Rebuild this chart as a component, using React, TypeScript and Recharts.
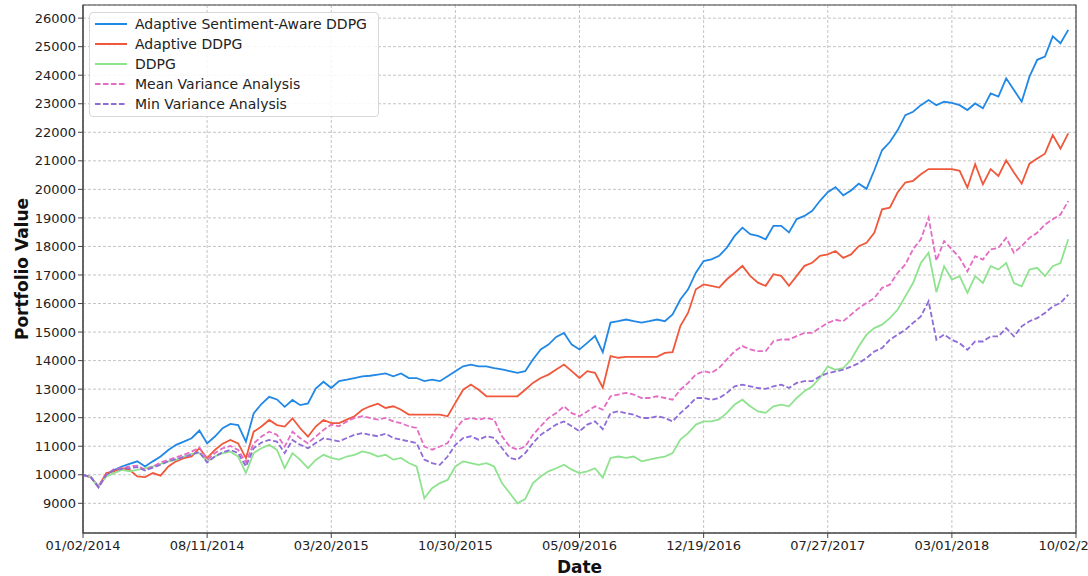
import React from "react";
import { LineChart, Line, XAxis, YAxis, CartesianGrid, ReferenceArea } from "recharts";

// tick labels (one every 16 samples)
const dateTicks = [
  "01/02/2014", "08/11/2014", "03/20/2015", "10/30/2015", "05/09/2016",
  "12/19/2016", "07/27/2017", "03/01/2018", "10/02/2018",
];
const samplesPerTick = 16;

const sentimentDdpg = [
  10000, 9920, 9590, 10000, 10170, 10290, 10380, 10470, 10290, 10470, 10640, 10870, 11050, 11160, 11280, 11550,
  11100, 11340, 11630, 11780, 11740, 11160, 12150, 12480, 12730, 12640, 12380, 12620, 12440, 12500, 13020, 13260,
  13040, 13280, 13330, 13390, 13450, 13470, 13510, 13550, 13450, 13550, 13390, 13390, 13280, 13330, 13280, 13450,
  13630, 13800, 13860, 13800, 13800, 13740, 13690, 13630, 13570, 13630, 14040, 14390, 14560, 14830, 14970, 14560,
  14390, 14620, 14860, 14300, 15330, 15380, 15440, 15380, 15330, 15380, 15440, 15380, 15620, 16140, 16500, 17080,
  17490, 17550, 17670, 17960, 18370, 18660, 18430, 18370, 18250, 18720, 18720, 18490, 18960, 19070, 19250, 19600,
  19900, 20080, 19790, 19960, 20200, 20020, 20670, 21370, 21660, 22070, 22600, 22720, 22950, 23130, 22950, 23070,
  23030, 22950, 22780, 23010, 22840, 23360, 23250, 23890, 23480, 23070, 23950, 24540, 24650, 25360, 25120, 25590,
];

const adaptiveDdpg = [
  10000, 9920, 9590, 10060, 10120, 10230, 10170, 9940, 9920, 10060, 9970, 10290, 10470, 10580, 10640, 10930,
  10580, 10870, 11090, 11220, 11100, 10580, 11510, 11690, 11920, 11740, 11690, 11980, 11630, 11340, 11690, 11920,
  11810, 11810, 11930, 12050, 12280, 12400, 12490, 12340, 12400, 12280, 12110, 12110, 12110, 12110, 12110, 12050,
  12520, 12980, 13160, 12980, 12750, 12750, 12750, 12750, 12750, 12980, 13220, 13390, 13510, 13690, 13860, 13630,
  13390, 13630, 13570, 13050, 14160, 14100, 14130, 14130, 14130, 14130, 14130, 14270, 14300, 15210, 15680, 16500,
  16670, 16620, 16560, 16850, 17080, 17320, 16970, 16730, 16620, 17030, 16970, 16620, 16970, 17320, 17430, 17670,
  17720, 17840, 17600, 17720, 18010, 18130, 18480, 19300, 19360, 19890, 20240, 20300, 20530, 20710, 20710, 20710,
  20710, 20650, 20060, 20880, 20180, 20710, 20470, 21020, 20590, 20200, 20900, 21080, 21250, 21900, 21430, 21960,
];

const ddpg = [
  10000, 9920, 9590, 9940, 10060, 10170, 10120, 10170, 10230, 10290, 10380, 10470, 10520, 10640, 10730, 10760,
  10470, 10640, 10760, 10810, 10640, 10060, 10760, 10930, 11050, 10870, 10230, 10760, 10520, 10230, 10520, 10700,
  10590, 10530, 10640, 10700, 10820, 10760, 10640, 10700, 10530, 10590, 10410, 10290, 9180, 9530, 9710, 9820,
  10290, 10470, 10410, 10350, 10410, 10290, 9710, 9360, 9000, 9150, 9710, 9940, 10120, 10230, 10350, 10180,
  10060, 10120, 10230, 9900, 10590, 10640, 10590, 10640, 10470, 10530, 10590, 10640, 10760, 11230, 11460, 11760,
  11870, 11870, 11940, 12170, 12460, 12630, 12400, 12220, 12170, 12400, 12460, 12400, 12690, 12930, 13100, 13400,
  13800, 13680, 13740, 14030, 14500, 14910, 15140, 15260, 15490, 15780, 16250, 16720, 17420, 17780, 16400, 17310,
  16840, 16960, 16370, 16960, 16720, 17310, 17190, 17420, 16720, 16600, 17190, 17250, 16960, 17310, 17420, 18250,
];

const meanVariance = [
  10000, 9920, 9560, 10000, 10200, 10230, 10290, 10320, 10170, 10290, 10430, 10520, 10610, 10700, 10810, 10960,
  10520, 10760, 10930, 11010, 10870, 10430, 11100, 11340, 11510, 11400, 10990, 11510, 11280, 11100, 11340, 11570,
  11760, 11700, 11870, 11990, 12050, 11990, 11930, 11990, 11870, 11810, 11700, 11640, 10990, 10880, 10990, 11110,
  11580, 11930, 11990, 11930, 11990, 11930, 11350, 10990, 10880, 10990, 11400, 11700, 11990, 12160, 12400, 12160,
  12050, 12220, 12400, 12280, 12750, 12810, 12870, 12810, 12690, 12690, 12750, 12690, 12630, 12980, 13220, 13510,
  13630, 13570, 13750, 14040, 14330, 14510, 14390, 14330, 14330, 14680, 14740, 14740, 14860, 14970, 14970, 15150,
  15320, 15430, 15380, 15610, 15840, 16020, 16190, 16550, 16660, 17070, 17370, 17900, 18250, 19010, 17500, 18190,
  17900, 17600, 17130, 17660, 17540, 17900, 17950, 18300, 17780, 18010, 18300, 18480, 18770, 18950, 19120, 19590,
];

const minVariance = [
  10000, 9920, 9560, 10000, 10170, 10200, 10230, 10270, 10150, 10250, 10350, 10470, 10550, 10620, 10700, 10810,
  10430, 10640, 10790, 10870, 10760, 10290, 10930, 11130, 11220, 11160, 10760, 11220, 11050, 10930, 11110, 11280,
  11230, 11170, 11290, 11400, 11460, 11400, 11350, 11440, 11290, 11230, 11170, 11110, 10530, 10410, 10350, 10640,
  11050, 11290, 11350, 11230, 11350, 11290, 10940, 10590, 10530, 10760, 11110, 11400, 11580, 11760, 11870, 11700,
  11520, 11760, 11870, 11600, 12160, 12220, 12160, 12110, 11990, 11990, 12050, 11990, 11870, 12160, 12400, 12690,
  12690, 12630, 12690, 12870, 13100, 13160, 13100, 13040, 13010, 13100, 13160, 13040, 13220, 13280, 13280, 13450,
  13560, 13620, 13680, 13790, 13910, 14090, 14320, 14440, 14730, 14910, 15080, 15320, 15550, 16080, 14730, 14910,
  14730, 14610, 14380, 14670, 14670, 14850, 14850, 15140, 14850, 15200, 15380, 15490, 15670, 15900, 16020, 16310,
];

const yTicks = [9000, 10000, 11000, 12000, 13000, 14000, 15000, 16000, 17000, 18000, 19000, 20000, 21000, 22000, 23000, 24000, 25000, 26000];

const series = [
  { key: "sentiment", name: "Adaptive Sentiment-Aware DDPG", color: "#2188e6", dash: undefined, values: sentimentDdpg },
  { key: "adaptive", name: "Adaptive DDPG", color: "#f0583c", dash: undefined, values: adaptiveDdpg },
  { key: "ddpg", name: "DDPG", color: "#8fe38f", dash: undefined, values: ddpg },
  { key: "meanVar", name: "Mean Variance Analysis", color: "#e46cc4", dash: "5.5 2.5", values: meanVariance },
  { key: "minVar", name: "Min Variance Analysis", color: "#8f6bd8", dash: "5.5 2.5", values: minVariance },
];

const data = sentimentDdpg.map((_, i) => {
  const row: Record<string, number> = { i };
  series.forEach((s) => (row[s.key] = s.values[i]));
  return row;
});

const xTicks = dateTicks.map((_, k) => k * samplesPerTick);
const font = "'DejaVu Sans', sans-serif";

// legend drawn as an overlay so it does not take space from the plot
function LegendBox() {
  return (
    <div
      style={{
        position: "absolute",
        left: 89,
        top: 12,
        width: 290,
        height: 105,
        paddingTop: 1,
        border: "1px solid #d8d8d8",
        borderRadius: 4,
        background: "rgba(255,255,255,0.85)",
        fontFamily: font,
        fontSize: 14,
        color: "#222",
        boxSizing: "border-box",
      }}
    >
      {series.map((s) => (
        <div key={s.key} style={{ display: "flex", alignItems: "center", height: 20 }}>
          <svg width={42} height={10} style={{ marginLeft: 3, flex: "none" }}>
            <line x1={2} y1={5} x2={34} y2={5} stroke={s.color} strokeWidth={2} strokeDasharray={s.dash} />
          </svg>
          <span style={{ whiteSpace: "nowrap" }}>{s.name}</span>
        </div>
      ))}
    </div>
  );
}

export default function App() {
  return (
    <div style={{ position: "fixed", left: 0, top: 0, width: 1088, height: 576, overflow: "hidden", background: "#fff" }}>
      <LineChart width={1110} height={576} data={data} margin={{ top: 5, right: 34, left: 0, bottom: 0 }}>
        <CartesianGrid stroke="#c4c4c4" strokeDasharray="3 2" />
        <XAxis
          dataKey="i"
          type="number"
          domain={[0, 128]}
          ticks={xTicks}
          tickFormatter={(v: number) => dateTicks[Math.round(v / samplesPerTick)]}
          height={43}
          tickSize={5}
          tickMargin={3}
          stroke="#444"
          tick={{ fill: "#222", fontSize: 13, fontFamily: font }}
          interval={0}
          label={{ value: "Date", position: "insideBottom", offset: 3, fill: "#111", fontSize: 17, fontWeight: "bold", fontFamily: font }}
        />
        <YAxis
          type="number"
          domain={[7960, 26460]}
          ticks={yTicks}
          allowDataOverflow
          width={83}
          tickSize={5}
          tickMargin={2}
          stroke="#444"
          tick={{ fill: "#222", fontSize: 13, fontFamily: font }}
          interval={0}
          label={{
            value: "Portfolio Value",
            angle: -90,
            position: "insideLeft",
            offset: 22,
            style: { textAnchor: "middle" },
            fill: "#111",
            fontSize: 17,
            fontWeight: "bold",
            fontFamily: font,
          }}
        />
        <ReferenceArea x1={0} x2={128} y1={7960} y2={26460} fill="none" stroke="#444" strokeWidth={1.2} ifOverflow="visible" />
        {series.map((s) => (
          <Line
            key={s.key}
            type="linear"
            dataKey={s.key}
            name={s.name}
            stroke={s.color}
            strokeWidth={1.8}
            strokeDasharray={s.dash}
            dot={false}
            activeDot={false}
            isAnimationActive={false}
          />
        ))}
      </LineChart>
      <LegendBox />
    </div>
  );
}
